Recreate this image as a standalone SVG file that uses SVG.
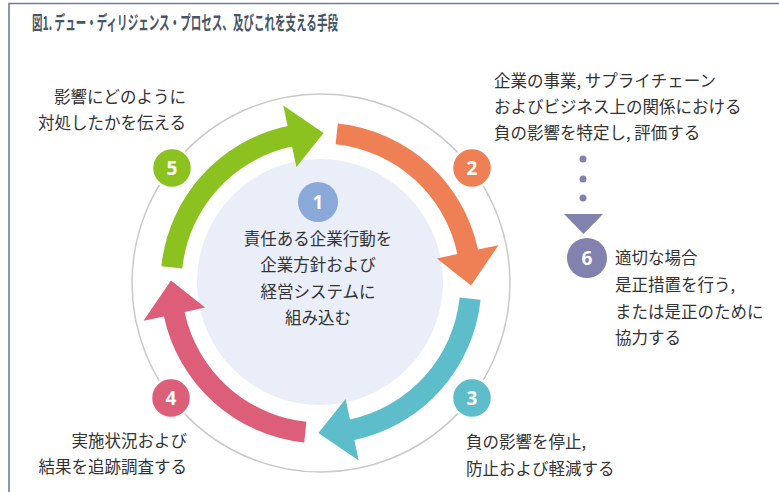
<svg xmlns="http://www.w3.org/2000/svg" width="779" height="492" viewBox="0 0 779 492">
<style>
.t{font-family:"Noto Sans CJK JP","Noto Sans",sans-serif;font-size:16.5px;fill:#333;}
.title{font-family:"Noto Sans CJK JP","Noto Sans",sans-serif;font-size:19px;font-weight:bold;fill:#485566;}
.num{font-family:"Open Sans","Noto Sans",sans-serif;font-size:19px;font-weight:bold;fill:#fff;text-anchor:middle;}
.badge{stroke:#fff;stroke-width:2.5;}
</style>
<defs>
<path id="arr" d="M161.4,266.2 A160.5,160.5 0 0 1 287.6,126.0 L283.3,105.5 L323.6,133.0 L296.4,167.1 L292.0,146.6 A139.5,139.5 0 0 0 182.3,268.4 Z"/>
</defs>
<rect width="779" height="492" fill="#fff"/>
<path d="M9,492 V3.5 H779" fill="none" stroke="#6e7ca0" stroke-width="1.6"/>
<text class="title" x="32" y="30" textLength="306" lengthAdjust="spacingAndGlyphs">図1. デュー・ディリジェンス・プロセス、及びこれを支える手段</text>

<g id="ring">
<circle cx="321" cy="283" r="189" fill="none" stroke="#c9c9c9" stroke-width="1.5"/>
<circle cx="320" cy="282" r="123" fill="#e9eef8"/>
</g>

<g id="connectors">
<use href="#arr" fill="#8cc220"/>
<use href="#arr" fill="#ef7f55" transform="rotate(90 321 283)"/>
<use href="#arr" fill="#5dbdca" transform="rotate(180 321 283)"/>
<use href="#arr" fill="#dc5e79" transform="rotate(270 321 283)"/>
<g fill="#8381ad">
<circle cx="583" cy="159" r="3.5"/>
<circle cx="583" cy="179" r="3.5"/>
<circle cx="583" cy="198" r="3.5"/>
<polygon points="564,214 603,214 583.5,234"/>
</g>
</g>

<g id="node1">
<circle cx="318" cy="202" r="20" fill="#8aa9d9"/>
<text class="num" x="318" y="209">1</text>
<text class="t" text-anchor="middle" x="318" y="245">責任ある企業行動を</text>
<text class="t" text-anchor="middle" x="318" y="271">企業方針および</text>
<text class="t" text-anchor="middle" x="318" y="298">経営システムに</text>
<text class="t" text-anchor="middle" x="318" y="324">組み込む</text>
</g>

<g id="node2">
<circle class="badge" cx="472" cy="168" r="20" fill="#ef7f55"/>
<text class="num" x="472" y="175">2</text>
<text class="t" x="494" y="86.5">企業の事業, サプライチェーン</text>
<text class="t" x="494" y="112.5">およびビジネス上の関係における</text>
<text class="t" x="494" y="138.5">負の影響を特定し, 評価する</text>
</g>

<g id="node3">
<circle class="badge" cx="472" cy="398" r="20" fill="#5dbdca"/>
<text class="num" x="472" y="405">3</text>
<text class="t" x="466" y="448">負の影響を停止,</text>
<text class="t" x="466" y="475">防止および軽減する</text>
</g>

<g id="node4">
<circle class="badge" cx="171" cy="398" r="20" fill="#dc5e79"/>
<text class="num" x="171" y="405">4</text>
<text class="t" text-anchor="end" x="187" y="447">実施状況および</text>
<text class="t" text-anchor="end" x="187" y="473">結果を追跡調査する</text>
</g>

<g id="node5">
<circle class="badge" cx="172" cy="168" r="20" fill="#8cc220"/>
<text class="num" x="172" y="175">5</text>
<text class="t" text-anchor="end" x="186" y="103">影響にどのように</text>
<text class="t" text-anchor="end" x="186" y="129">対処したかを伝える</text>
</g>

<g id="node6">
<circle cx="587" cy="258" r="20" fill="#8381ad"/>
<text class="num" x="587" y="265">6</text>
<text class="t" x="615" y="264">適切な場合</text>
<text class="t" x="615" y="291">是正措置を行う,</text>
<text class="t" x="615" y="318">または是正のために</text>
<text class="t" x="615" y="344">協力する</text>
</g>
</svg>
